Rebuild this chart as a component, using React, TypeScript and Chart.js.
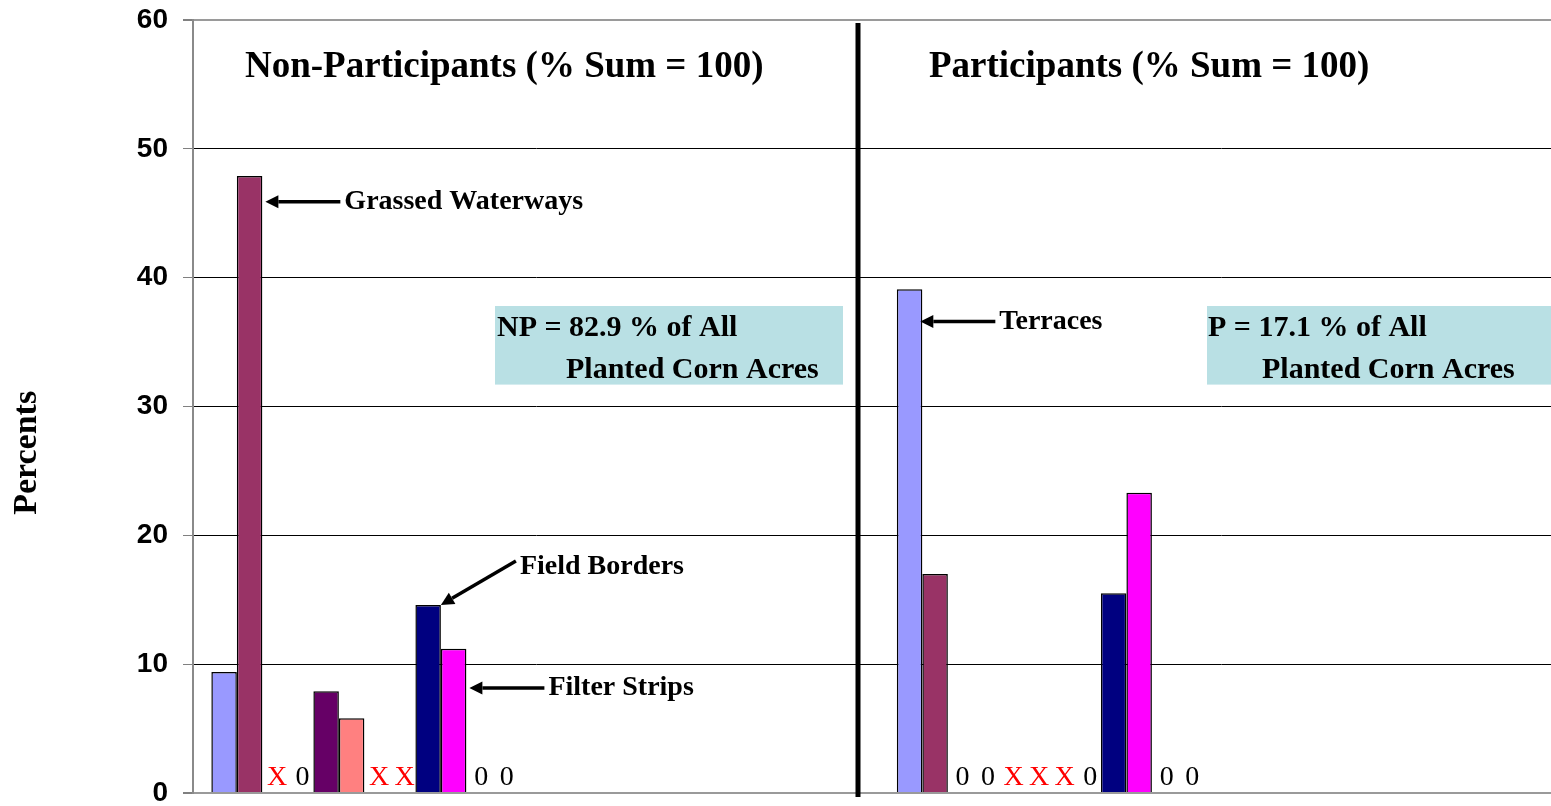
import React, { useEffect, useRef } from "react";
import { Chart, registerables } from "chart.js";

Chart.register(...registerables);

// Categories (two real groups, each followed by an empty category slot as in the source chart)
const categories = ["Non-Participants", "", "Participants", ""];

// Series (12 practices, Excel default palette order)
const seriesNames = [
  "Terraces",
  "Grassed Waterways",
  "Practice 3",
  "Practice 4",
  "Practice 5",
  "Practice 6",
  "Practice 7",
  "Practice 8",
  "Field Borders",
  "Filter Strips",
  "Practice 11",
  "Practice 12",
];
const seriesColors = [
  "#9999FF",
  "#993366",
  "#FFFFCC",
  "#CCFFFF",
  "#660066",
  "#FF8080",
  "#0066CC",
  "#CCCCFF",
  "#000080",
  "#FF00FF",
  "#FFFF00",
  "#00FFFF",
];

// Values per series: [Non-Participants, (empty), Participants, (empty)]
// null in a real category = not reported ("X"); 0 = zero ("0")
const terraces = [9.4, null, 39.1, null];
const grassedWaterways = [47.9, null, 17.0, null];
const practice3 = [null, null, 0, null];
const practice4 = [0, null, 0, null];
const practice5 = [7.9, null, null, null];
const practice6 = [5.8, null, null, null];
const practice7 = [null, null, null, null];
const practice8 = [null, null, 0, null];
const fieldBorders = [14.6, null, 15.5, null];
const filterStrips = [11.2, null, 23.3, null];
const practice11 = [0, null, 0, null];
const practice12 = [0, null, 0, null];

const seriesValues = [
  terraces,
  grassedWaterways,
  practice3,
  practice4,
  practice5,
  practice6,
  practice7,
  practice8,
  fieldBorders,
  filterStrips,
  practice11,
  practice12,
];

const yTickValues = [0, 10, 20, 30, 40, 50, 60];

const groupTitles = ["Non-Participants (% Sum = 100)", "Participants (% Sum = 100)"];
const shareLines = [
  ["NP = 82.9 % of All", "Planted Corn Acres"],
  ["P = 17.1 % of All", "Planted Corn Acres"],
];

// Callouts: series index, category index, value where the arrow points
const calloutText = ["Grassed Waterways", "Terraces", "Field Borders", "Filter Strips"];
const calloutSeries = [1, 0, 8, 9];
const calloutCategory = [0, 2, 0, 0];
const calloutValue = [45.9, 36.6, 14.6, 8.15];

const SERIF = "'Liberation Serif', 'Times New Roman', serif";
const SANS = "'Liberation Sans', Arial, sans-serif";

function drawArrow(ctx: CanvasRenderingContext2D, x1: number, y1: number, x2: number, y2: number) {
  const ang = Math.atan2(y2 - y1, x2 - x1);
  const headLen = 13;
  const headHalf = 6.5;
  const bx = x2 - headLen * Math.cos(ang);
  const by = y2 - headLen * Math.sin(ang);
  ctx.save();
  ctx.strokeStyle = "#000";
  ctx.fillStyle = "#000";
  ctx.lineWidth = 3.5;
  ctx.beginPath();
  ctx.moveTo(x1, y1);
  ctx.lineTo(bx, by);
  ctx.stroke();
  ctx.beginPath();
  ctx.moveTo(x2, y2);
  ctx.lineTo(bx + headHalf * Math.sin(ang), by - headHalf * Math.cos(ang));
  ctx.lineTo(bx - headHalf * Math.sin(ang), by + headHalf * Math.cos(ang));
  ctx.closePath();
  ctx.fill();
  ctx.restore();
}

const decorPlugin = {
  id: "decor",
  beforeDatasetsDraw(chart: any) {
    const ctx: CanvasRenderingContext2D = chart.ctx;
    const y = chart.scales.y;
    const boxTop = y.getPixelForValue(37.8);
    const boxBottom = y.getPixelForValue(31.7);
    const boxes = [
      [495, 843],
      [1207, 1564],
    ];
    ctx.save();
    ctx.fillStyle = "#B9E0E4";
    boxes.forEach(([l, r]) => ctx.fillRect(l, boxTop, r - l, boxBottom - boxTop));
    ctx.restore();
  },
  afterDatasetsDraw(chart: any) {
    const ctx: CanvasRenderingContext2D = chart.ctx;
    const y = chart.scales.y;
    const area = chart.chartArea;
    const zeroY = y.getPixelForValue(0);

    // "0" / "X" markers
    ctx.save();
    ctx.font = `28px ${SERIF}`;
    ctx.textAlign = "center";
    ctx.textBaseline = "alphabetic";
    seriesValues.forEach((vals, si) => {
      const meta = chart.getDatasetMeta(si);
      vals.forEach((v, ci) => {
        if (categories[ci] === "") return;
        const el = meta.data[ci];
        if (!el) return;
        if (v === null) {
          ctx.fillStyle = "#FF0000";
          ctx.fillText("X", el.x + 2, zeroY - 8);
        } else if (v === 0) {
          ctx.fillStyle = "#000";
          ctx.fillText("0", el.x + 2, zeroY - 8);
        }
      });
    });
    ctx.restore();

    // divider
    ctx.save();
    ctx.fillStyle = "#000";
    ctx.fillRect(855.5, area.top + 3, 5, area.bottom - area.top + 1);
    ctx.restore();

    // group titles
    ctx.save();
    ctx.font = `bold 37px ${SERIF}`;
    ctx.fillStyle = "#000";
    ctx.textAlign = "left";
    ctx.textBaseline = "alphabetic";
    ctx.fillText(groupTitles[0], 245, 77);
    ctx.fillText(groupTitles[1], 929, 77);
    ctx.restore();

    // share text
    ctx.save();
    ctx.font = `bold 30px ${SERIF}`;
    ctx.fillStyle = "#000";
    ctx.textAlign = "left";
    ctx.fillText(shareLines[0][0], 497, 336);
    ctx.fillText(shareLines[0][1], 566, 378);
    ctx.fillText(shareLines[1][0], 1208, 336);
    ctx.fillText(shareLines[1][1], 1262, 378);
    ctx.restore();

    // callouts
    ctx.save();
    ctx.font = `bold 28px ${SERIF}`;
    ctx.fillStyle = "#000";
    ctx.textAlign = "left";
    ctx.textBaseline = "middle";
    calloutText.forEach((t, k) => {
      const el = chart.getDatasetMeta(calloutSeries[k]).data[calloutCategory[k]];
      const right = el.x + el.width / 2;
      const tipY = y.getPixelForValue(calloutValue[k]);
      if (t === "Field Borders") {
        const tipX = right;
        const tailX = tipX + 75;
        const tailY = tipY - 44;
        drawArrow(ctx, tailX, tailY, tipX, tipY);
        ctx.fillText(t, tailX + 4, tailY + 6);
      } else {
        const tipX = t === "Terraces" ? right - 2 : right + 3;
        const tailX = tipX + 75;
        drawArrow(ctx, tailX, tipY, tipX, tipY);
        ctx.fillText(t, tailX + 4, tipY);
      }
    });
    ctx.restore();

    // y axis title
    ctx.save();
    ctx.font = `bold 34px ${SERIF}`;
    ctx.fillStyle = "#000";
    ctx.textAlign = "center";
    ctx.textBaseline = "middle";
    ctx.translate(27, y.getPixelForValue(26.4));
    ctx.rotate(-Math.PI / 2);
    ctx.fillText("Percents", 0, 0);
    ctx.restore();
  },
};

export default function App() {
  const canvasRef = useRef<HTMLCanvasElement | null>(null);

  useEffect(() => {
    if (!canvasRef.current) return;
    const chart = new Chart(canvasRef.current, {
      type: "bar",
      data: {
        labels: categories,
        datasets: seriesNames.map((name, i) => ({
          label: name,
          data: seriesValues[i] as any,
          backgroundColor: seriesColors[i],
          borderColor: "#000",
          borderWidth: 1.5,
          categoryPercentage: 0.893,
          barPercentage: 1,
        })),
      },
      options: {
        animation: false,
        responsive: true,
        maintainAspectRatio: false,
        layout: { padding: { top: 20, bottom: 13, left: 0, right: 0 } },
        plugins: {
          legend: { display: false },
          tooltip: { enabled: false },
          title: { display: false },
        },
        scales: {
          x: {
            type: "category",
            display: false,
            offset: true,
          },
          y: {
            min: 0,
            max: 60,
            afterBuildTicks: (scale: any) => {
              scale.ticks = yTickValues.map((v) => ({ value: v }));
            },
            afterFit: (scale: any) => {
              scale.width = 193;
              scale.paddingTop = 0;
              scale.paddingBottom = 0;
            },
            ticks: {
              padding: 15,
              color: "#000",
              font: { family: SANS, size: 28, weight: "bold", lineHeight: 1 },
            },
            grid: {
              color: (c: any) => (c.tick && (c.tick.value === 0 || c.tick.value === 60) ? "#9a9a9a" : "#000"),
              lineWidth: (c: any) => (c.tick && (c.tick.value === 0 || c.tick.value === 60) ? 2 : 1),
              tickColor: "#808080",
              tickLength: 10,
              drawTicks: true,
            },
            border: { display: true, color: "#8a8a8a", width: 2 },
          },
        },
      },
      plugins: [decorPlugin],
    } as any);
    return () => chart.destroy();
  }, []);

  return (
    <div
      style={{
        position: "fixed",
        left: 0,
        top: 0,
        width: 1551,
        height: 806,
        overflow: "hidden",
        background: "#fff",
      }}
    >
      <div style={{ position: "relative", width: 1564, height: 806 }}>
        <canvas ref={canvasRef} />
      </div>
    </div>
  );
}
